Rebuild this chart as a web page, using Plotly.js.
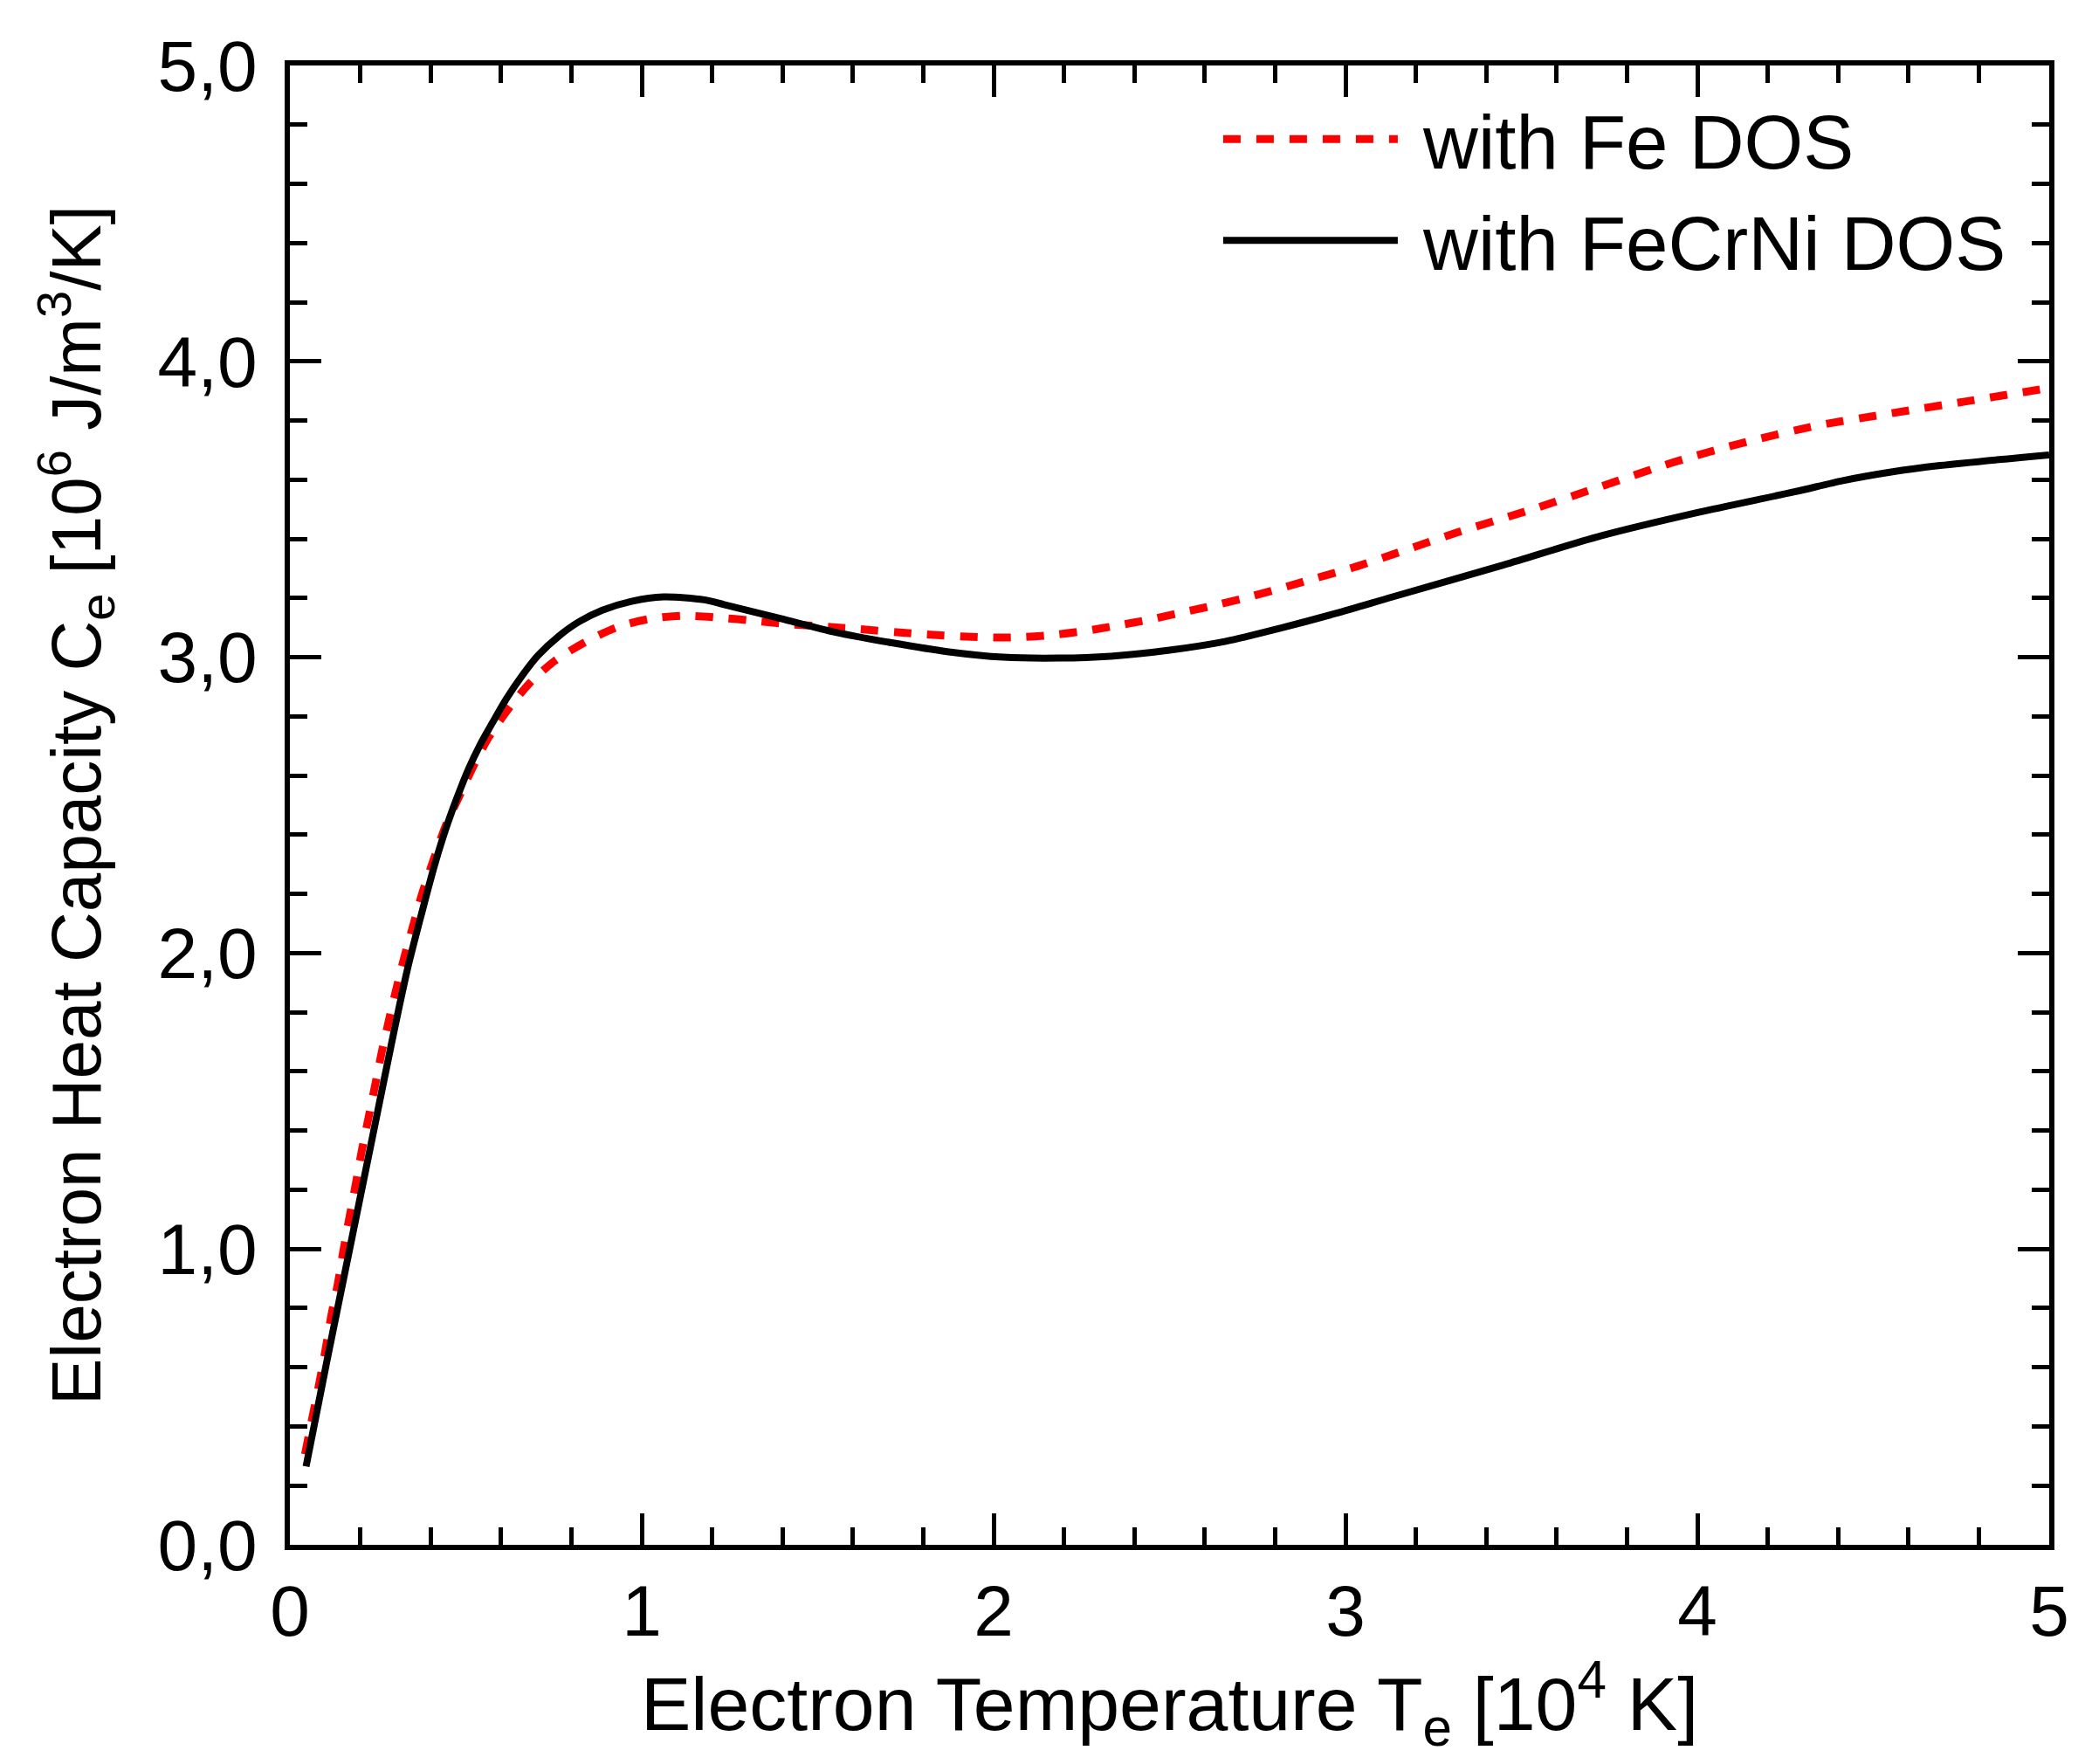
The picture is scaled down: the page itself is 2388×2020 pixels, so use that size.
<!DOCTYPE html>
<html>
<head>
<meta charset="utf-8">
<script src="https://cdn.plot.ly/plotly-3.0.1.min.js"></script>
<style>
  html, body { margin: 0; padding: 0; background: #fff; overflow: hidden; }
  #chart { width: 2388px; height: 2020px; }
</style>
</head>
<body>
<div id="chart"></div>
<script>
// electron temperature in 10^4 K, heat capacity in 10^6 J/m^3/K
const feTemp = [0.043, 0.065, 0.084, 0.101, 0.117, 0.136, 0.152, 0.169, 0.187, 0.204, 0.223, 0.242, 0.261, 0.282,
  0.304, 0.326, 0.351, 0.377, 0.409, 0.442, 0.483, 0.52, 0.566, 0.624, 0.682, 0.752, 0.839, 0.934, 1.025, 1.12,
  1.217, 1.312, 1.407, 1.597, 1.787, 1.977, 2.079, 2.174, 2.261, 2.356, 2.451, 2.546, 2.641, 2.736, 2.831, 2.918,
  3.013, 3.108, 3.195, 3.313, 3.52, 3.726, 3.933, 4.14, 4.346, 4.553, 4.76, 5.0];
const feCap = [0.306, 0.437, 0.549, 0.658, 0.77, 0.881, 0.994, 1.105, 1.218, 1.33, 1.441, 1.552, 1.665, 1.776,
  1.886, 1.99, 2.096, 2.205, 2.318, 2.428, 2.534, 2.628, 2.731, 2.83, 2.913, 2.987, 3.051, 3.103, 3.13, 3.14,
  3.134, 3.124, 3.113, 3.097, 3.079, 3.067, 3.068, 3.076, 3.089, 3.108, 3.129, 3.154, 3.179, 3.207, 3.238, 3.268,
  3.30, 3.337, 3.372, 3.42, 3.496, 3.577, 3.659, 3.728, 3.784, 3.825, 3.864, 3.91];

const fcnTemp = [0.046, 0.105, 0.17, 0.235, 0.295, 0.335, 0.376, 0.409, 0.442, 0.475, 0.508, 0.541, 0.574, 0.615,
  0.657, 0.706, 0.764, 0.822, 0.888, 0.971, 1.062, 1.178, 1.234, 1.393, 1.551, 1.71, 1.868, 2.027, 2.185, 2.34,
  2.50, 2.66, 2.817, 2.975, 3.134, 3.45, 3.726, 4.001, 4.276, 4.414, 4.551, 4.69, 5.0];
const fcnCap = [0.265, 0.62, 1.0, 1.38, 1.73, 1.95, 2.141, 2.288, 2.416, 2.525, 2.623, 2.705, 2.775, 2.859,
  2.933, 3.007, 3.071, 3.12, 3.159, 3.189, 3.204, 3.194, 3.178, 3.131, 3.084, 3.049, 3.019, 3.0, 2.997, 3.004,
  3.024, 3.054, 3.099, 3.149, 3.204, 3.312, 3.41, 3.489, 3.559, 3.597, 3.626, 3.648, 3.684];

const seriesNames = ["\u00a0with Fe DOS", "\u00a0with FeCrNi DOS"];
const xTitle = "Electron Temperature T<sub>e</sub> [10<sup>4</sup> K]";
const yTitle = "Electron Heat Capacity C<sub>e</sub> [10<sup>6</sup> J/m<sup>3</sup>/K]";

const FONT = "Liberation Sans, Arial, sans-serif";

let traceFe = {
  type: "scatter",
  mode: "lines",
  x: feTemp,
  y: feCap,
  name: seriesNames[0],
  line: {color: "#ff0000", width: 9, dash: "20px,18px", shape: "spline", smoothing: 0.8}
};
let traceFcn = {
  type: "scatter",
  mode: "lines",
  x: fcnTemp,
  y: fcnCap,
  name: seriesNames[1],
  line: {color: "#000000", width: 8, shape: "spline", smoothing: 0.8}
};

function axisBase() {
  return {
    showline: true, linewidth: 6, linecolor: "#000",
    mirror: "ticks",
    ticks: "inside", ticklen: 36, tickwidth: 5, tickcolor: "#000",
    showgrid: false, zeroline: false,
    range: [0, 5], dtick: 1, tick0: 0,
    tickfont: {family: FONT, size: 82, color: "#000"},
    minor: {ticks: "inside", ticklen: 20, tickwidth: 5, tickcolor: "#000", dtick: 0.2, showgrid: false},
    automargin: false
  };
}

let xaxis = axisBase();
xaxis.ticklabelstandoff = 0;
xaxis.title = {
  text: xTitle,
  font: {family: FONT, size: 86, color: "#000"},
  standoff: 0
};

let yaxis = axisBase();
yaxis.tickformat = ".1f";
yaxis.ticklabelstandoff = 15;
yaxis.title = {
  text: yTitle,
  font: {family: FONT, size: 80, color: "#000"},
  standoff: 41
};

let layout = {
  width: 2388,
  height: 2020,
  margin: {l: 332, r: 41, t: 75, b: 251},
  paper_bgcolor: "#fff",
  plot_bgcolor: "#fff",
  separators: ", ",
  font: {family: FONT, color: "#000"},
  xaxis: xaxis,
  yaxis: yaxis,
  showlegend: true,
  legend: {
    x: 0.528, y: 0.9875, xanchor: "left", yanchor: "top",
    bgcolor: "rgba(0,0,0,0)", borderwidth: 0,
    font: {family: FONT, size: 87, color: "#000"},
    itemwidth: 200
  }
};

Plotly.newPlot("chart", [traceFe, traceFcn], layout, {staticPlot: true});
</script>
</body>
</html>
